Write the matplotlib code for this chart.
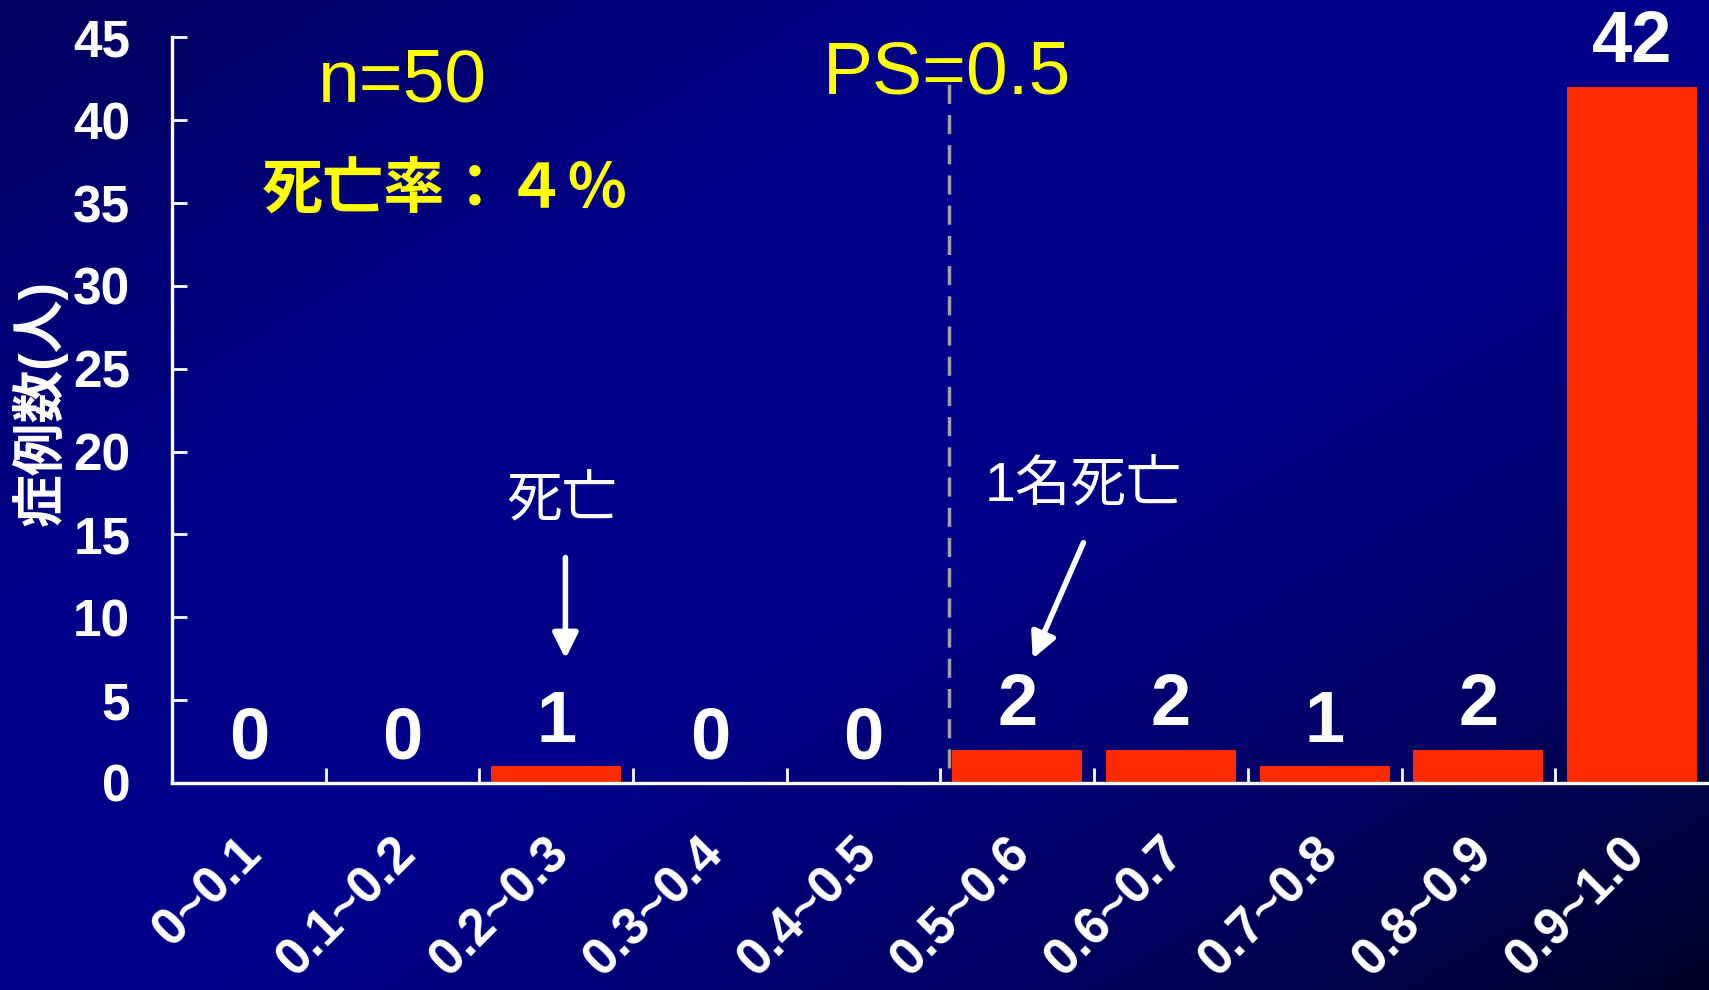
import numpy as np
import matplotlib
matplotlib.use("Agg")
import matplotlib.pyplot as plt
import matplotlib.transforms as mtransforms

plt.rcParams['font.family'] = ['Liberation Sans', 'Noto Sans CJK JP', 'DejaVu Sans']

# データ
categories = ['0~0.1', '0.1~0.2', '0.2~0.3', '0.3~0.4', '0.4~0.5',
              '0.5~0.6', '0.6~0.7', '0.7~0.8', '0.8~0.9', '0.9~1.0']
counts = [0, 0, 1, 0, 0, 2, 2, 1, 2, 42]
yticks = [0, 5, 10, 15, 20, 25, 30, 35, 40, 45]
ps_cut = 4.555   # PS=0.5 の位置 (カテゴリ番号)

fig = plt.figure(figsize=(17.09, 9.90), dpi=100)

# 背景グラデーション
bg = fig.add_axes([0, 0, 1, 1], zorder=-1)
H, W = 200, 340
xx, yy = np.meshgrid(np.linspace(0, 1, W), np.linspace(0, 1, H))
t = (xx + yy) / 2
blue = np.interp(t, [0, 0.3, 0.55, 0.8, 1.0], [0x5e, 0x88, 0x8a, 0x62, 0x2a]) / 255
img = np.zeros((H, W, 3))
img[..., 2] = blue
bg.imshow(img, aspect='auto', extent=[0, 1, 0, 1], origin='upper', interpolation='bilinear')
bg.axis('off')

ax = fig.add_axes([0.1006, 0.2091, 0.8994, 0.7532])
ax.set_facecolor('none')
x = np.arange(len(categories))
ax.bar(x, counts, width=0.845, color='#ff2a00', zorder=2)

ax.set_xlim(-0.5, 9.5)
ax.set_ylim(0, 45)
for s in ['top', 'right']:
    ax.spines[s].set_visible(False)
for s in ['left', 'bottom']:
    ax.spines[s].set_color('white')
    ax.spines[s].set_linewidth(2.4)

ax.set_yticks(yticks)
ax.set_yticklabels([str(v) for v in yticks], fontsize=37, fontweight='bold', color='white')
ax.tick_params(axis='y', direction='in', length=11, width=2, color='white', pad=30)

ax.set_xticks(x)
ax.set_xticklabels(categories, fontsize=37, fontweight='bold', color='white',
                   rotation=45, ha='right', va='top', rotation_mode='anchor')
ax.tick_params(axis='x', which='major', length=0, pad=33)
shift = mtransforms.ScaledTranslation(-0.12, 0, fig.dpi_scale_trans)
for lab in ax.get_xticklabels():
    lab.set_transform(lab.get_transform() + shift)
ax.set_xticks(x[1:] - 0.5, minor=True)
ax.tick_params(axis='x', which='minor', direction='in', length=11, width=2, color='white')

# 値ラベル
for i, v in enumerate(counts):
    ax.text(i, v + 1.5, str(v), ha='center', va='baseline', fontsize=52,
            fontweight='bold', color='white', clip_on=False)

# PS=0.5 の破線
ax.plot([ps_cut, ps_cut], [0.9, 42.2], ls=(0, (5.5, 3.2)), color='#a0a0a0', lw=2.5, zorder=1)

ax.set_ylabel('症例数(人)', fontsize=38, fontweight='bold', color='white')
ax.yaxis.set_label_coords(-0.068, 0.51)

ax.text(1.0, 41.1, 'n=50', ha='center', va='baseline', fontsize=54, color='#ffff00')
ax.text(1.28, 35.6, '死亡率：４％', ha='center', va='center', fontsize=44,
        fontweight='bold', color='#ffff00')
ax.text(4.54, 41.6, 'PS=0.5', ha='center', va='baseline', fontsize=54, color='#ffff00')

ax.text(2.04, 17.0, '死亡', ha='center', va='center', fontsize=40, color='white')
ax.text(5.43, 17.9, '1名死亡', ha='center', va='center', fontsize=40, color='white')
arrow = dict(arrowstyle='-|>', lw=4, color='white', mutation_scale=38, shrinkA=0, shrinkB=0)
ax.annotate('', xy=(2.06, 7.5), xytext=(2.06, 13.6), arrowprops=arrow)
ax.annotate('', xy=(5.10, 7.5), xytext=(5.43, 14.5), arrowprops=arrow)

fig.savefig('out.png', dpi=100)
